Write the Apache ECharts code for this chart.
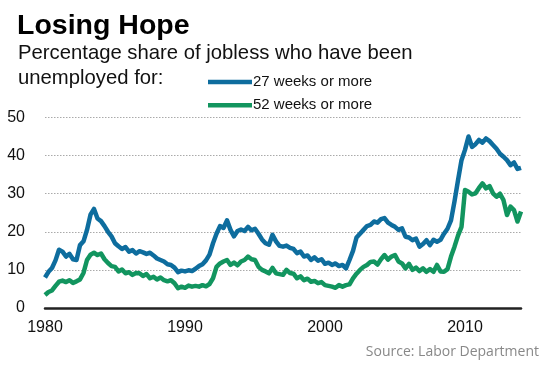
<!DOCTYPE html>
<html>
<head>
<meta charset="utf-8">
<script src="https://cdn.jsdelivr.net/npm/echarts@6/dist/echarts.min.js"></script>
<style>
html,body{margin:0;padding:0;background:#fff;}
#chart{width:553px;height:369px;}
</style>
</head>
<body>
<div id="chart"></div>
<script>
// Quarterly observations, 1980 Q1 .. 2014 Q1
const startYear = 1980;
const weeks27 = [
  8.0, 9.5, 10.5, 12.5,
  15.3, 14.8, 13.5, 14.2,
  12.8, 12.6, 16.5, 17.5,
  20.5, 24.5, 26.0, 23.5,
  22.8, 21.5, 20.0, 18.8,
  17.0, 16.2, 15.5, 16.0,
  14.8, 15.2, 14.3, 14.9,
  14.6, 14.2, 14.5, 13.8,
  13.0, 12.6, 12.2, 11.5,
  11.3, 10.6, 9.4, 9.8,
  9.6, 9.9, 9.7, 10.3,
  11.0, 11.5, 12.5, 14.0,
  17.0, 19.5, 21.5, 21.0,
  23.0, 20.5, 18.8, 20.2,
  20.6, 20.2, 21.3, 20.4,
  20.8, 19.5, 18.0, 17.0,
  16.6, 19.2, 17.5, 16.3,
  16.1, 16.4, 15.8, 15.5,
  14.4, 14.8, 13.5, 13.8,
  12.6, 13.3, 12.4, 12.8,
  11.6, 11.9, 11.3, 11.7,
  11.0, 11.3, 10.4, 12.6,
  15.0, 18.5, 19.5, 20.5,
  21.5, 21.8, 22.7, 22.4,
  23.3, 23.6, 22.4, 21.8,
  21.3, 20.5, 20.9, 18.7,
  18.5, 17.8, 18.2, 16.1,
  16.8, 17.8, 16.5, 17.9,
  17.4, 17.9, 19.5, 20.8,
  23.0, 28.0, 33.5, 38.8,
  41.5, 45.0, 42.3, 43.0,
  44.1, 43.4, 44.5, 43.8,
  42.8, 41.8, 40.5, 39.7,
  38.8, 37.5, 38.2, 36.5,
  36.8
];
const weeks52 = [
  3.4, 4.2, 4.6, 5.8,
  6.9, 7.2, 6.8, 7.3,
  6.6, 7.0, 7.5, 9.2,
  12.6, 14.0, 14.5, 13.9,
  14.3, 12.8, 11.8, 11.0,
  10.8, 9.6, 10.1, 9.1,
  9.4, 8.7, 9.2, 9.1,
  8.4, 8.9, 7.8, 8.2,
  7.5, 8.0, 7.3, 7.0,
  7.3, 6.5, 5.2, 5.6,
  5.3, 5.9, 5.6, 5.8,
  5.6, 6.0, 5.7, 6.3,
  7.8, 10.8, 11.7, 12.2,
  12.6, 11.3, 11.9, 11.2,
  12.2, 12.6, 13.5, 12.8,
  12.6, 10.8, 10.0, 9.6,
  9.1, 10.5, 9.1, 8.9,
  8.7, 10.0, 9.2, 9.0,
  7.8, 8.3, 7.3, 7.7,
  6.9, 7.1, 6.5, 6.8,
  6.0, 5.8, 5.6, 5.3,
  6.0, 5.6, 6.0, 6.2,
  7.8, 9.0, 10.0, 10.8,
  11.3, 12.1, 12.2, 11.4,
  12.8, 13.9, 12.7, 13.5,
  13.9, 12.2, 11.7, 10.4,
  11.6, 10.0, 10.6, 9.7,
  10.4, 9.5, 10.2, 9.5,
  11.3, 9.6, 9.5, 10.2,
  13.5, 16.1, 19.0, 21.3,
  31.0, 30.5, 29.8, 30.1,
  31.5, 32.7, 31.4, 32.0,
  30.1, 29.2, 30.0, 28.3,
  24.4, 26.6, 25.7, 22.7,
  25.3
];
const seriesNames = ['27 weeks or more', '52 weeks or more'];
const yTicks = [0, 10, 20, 30, 40, 50];
const xTickYears = [1980, 1990, 2000, 2010];

const quarters = weeks27.map((_, i) => startYear + i / 4);
const toPairs = vals => vals.map((v, i) => [quarters[i], v]);

const FONT = '"Liberation Sans", Arial, sans-serif';
const chart = echarts.init(document.getElementById('chart'), null, {renderer: 'canvas'});
chart.setOption({
  animation: false,
  backgroundColor: '#fff',
  textStyle: {fontFamily: FONT},
  title: [
    {text: 'Losing Hope', left: 17, top: 12.5, padding: 0,
     textStyle: {fontFamily: FONT, fontSize: 28.5, fontWeight: 'bold', color: '#000', lineHeight: 28}},
    {text: 'Percentage share of jobless who have been\nunemployed for:', left: 18, top: 41, padding: 0,
     textStyle: {fontFamily: FONT, fontSize: 20.3, fontWeight: 'normal', color: '#111', lineHeight: 25}},
    {text: 'Source: Labor Department', right: 14, top: 344, padding: 0,
     textStyle: {fontFamily: '"Open Sans", sans-serif', fontSize: 14, fontWeight: 'normal', color: '#888', lineHeight: 16}}
  ],
  legend: {
    orient: 'vertical', left: 208, top: 74, padding: 0,
    itemWidth: 44, itemHeight: 4.5, itemGap: 7.3, icon: 'rect',
    data: seriesNames,
    textStyle: {fontFamily: FONT, fontSize: 15, color: '#111', lineHeight: 16, padding: [0, 0, 0, -4]}
  },
  grid: {left: 45, right: 32, top: 117.5, bottom: 61, containLabel: false},
  xAxis: {
    type: 'value', min: 1980, max: 2014, interval: 10,
    axisLine: {show: true, onZero: false, lineStyle: {color: '#222', width: 2.5}},
    axisTick: {show: false},
    splitLine: {show: false},
    axisLabel: {fontFamily: FONT, fontSize: 16, color: '#111', margin: 12, showMaxLabel: false,
      formatter: v => xTickYears.includes(v) ? String(v) : ''}
  },
  yAxis: {
    type: 'value', min: yTicks[0], max: yTicks[yTicks.length - 1], interval: 10,
    axisLine: {show: false}, axisTick: {show: false},
    splitLine: {show: true, lineStyle: {color: '#aaa', type: [1.5, 1.5], width: 1}},
    axisLabel: {fontFamily: FONT, fontSize: 16, color: '#111', margin: 20}
  },
  series: [
    {name: seriesNames[0], type: 'line', data: toPairs(weeks27), showSymbol: false,
     color: '#0e6d9e', lineStyle: {width: 4.5, color: '#0e6d9e', join: 'round'}, z: 3},
    {name: seriesNames[1], type: 'line', data: toPairs(weeks52), showSymbol: false,
     color: '#12955f', lineStyle: {width: 4.5, color: '#12955f', join: 'round'}, z: 2}
  ]
});
</script>
</body>
</html>
